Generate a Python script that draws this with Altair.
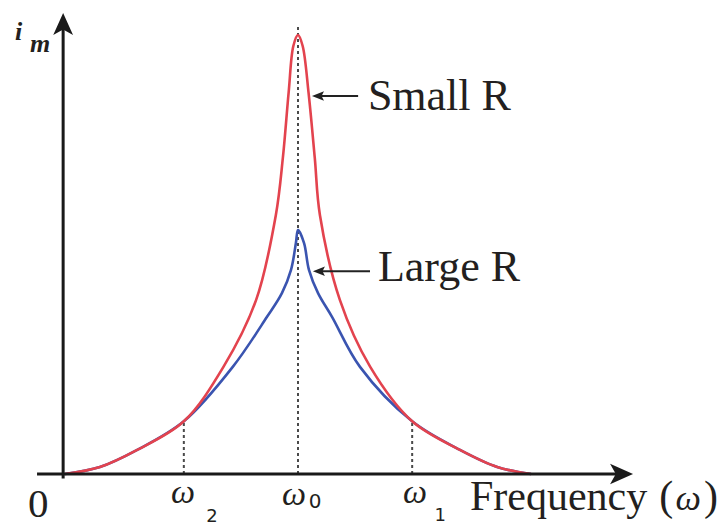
import altair as alt
import pandas as pd

# ---- data (normalised: omega/omega0, i/i_max) ----
red_x = [0.0, 0.15, 0.31, 0.51, 0.68, 0.82, 0.905, 0.935, 0.96, 0.98, 1.0,
         1.02, 1.045, 1.072, 1.094, 1.18, 1.31, 1.49, 1.695, 1.855, 2.0]
red_y = [0.0, 0.016, 0.055, 0.12, 0.244, 0.396, 0.59, 0.72, 0.87, 0.975, 1.0,
         0.975, 0.87, 0.72, 0.59, 0.396, 0.244, 0.12, 0.055, 0.016, 0.0]

blue_x = [0.0, 0.15, 0.31, 0.51, 0.72, 0.867, 0.931, 0.97, 0.991, 1.0,
          1.026, 1.047, 1.086, 1.146, 1.266, 1.49, 1.695, 1.855, 2.0]
blue_y = [0.0, 0.016, 0.055, 0.12, 0.244, 0.358, 0.412, 0.465, 0.526, 0.556,
          0.526, 0.465, 0.412, 0.358, 0.244, 0.12, 0.055, 0.016, 0.0]

omega_marks = [0.51, 1.0, 1.49]        # omega2, omega0, omega1
omega_heights = [0.12, 1.023, 0.12]    # top of the dotted guides
curve_labels = ["Small R", "Large R"]

RED = "#e3434e"
BLUE = "#3a54b0"
INK = "#231f20"
SERIF = "'Liberation Serif', 'Times New Roman', 'DejaVu Serif', serif"
SANS = "'DejaVu Sans', Verdana, sans-serif"

W, H = 710, 517
X = alt.Scale(domain=[-57 / 233, (W - 57) / 233], nice=False, zero=False)
Y = alt.Scale(domain=[-(H - 466) / 439, 466 / 439], nice=False, zero=False)


def enc(**kw):
    e = dict(x=alt.X("x:Q", scale=X, axis=None), y=alt.Y("y:Q", scale=Y, axis=None))
    e.update(kw)
    return e


def df(**cols):
    return pd.DataFrame(cols)


layers = []

# dotted guides
layers.append(
    alt.Chart(df(x=omega_marks, y=[0, 0, 0], y2=omega_heights))
    .mark_rule(color="#4a4a4a", strokeWidth=2, strokeDash=[3, 3])
    .encode(**enc(y2="y2:Q"))
)

# curves
layers.append(
    alt.Chart(df(x=blue_x, y=blue_y))
    .mark_line(color=BLUE, strokeWidth=2.6, interpolate="catmull-rom")
    .encode(**enc())
)
layers.append(
    alt.Chart(df(x=red_x, y=red_y))
    .mark_line(color=RED, strokeWidth=2.6, interpolate="catmull-rom")
    .encode(**enc())
)

# axes lines
layers.append(
    alt.Chart(df(x=[-0.12], x2=[2.40], y=[0.0]))
    .mark_rule(color="#1a1a1a", strokeWidth=3)
    .encode(**enc(x2="x2:Q"))
)
layers.append(
    alt.Chart(df(x=[-0.008], y=[-0.01], y2=[1.02]))
    .mark_rule(color="#1a1a1a", strokeWidth=3)
    .encode(**enc(y2="y2:Q"))
)
# axis arrowheads
layers.append(
    alt.Chart(df(x=[2.438], y=[0.0]))
    .mark_point(shape="M0,0L-1,-0.45L-0.75,0L-1,0.45Z", size=4 * 23 * 23,
                filled=True, color="#1a1a1a", opacity=1, strokeWidth=0)
    .encode(**enc())
)
layers.append(
    alt.Chart(df(x=[-0.008], y=[1.050]))
    .mark_point(shape="M0,0L-0.45,1L0,0.75L0.45,1Z", size=4 * 22 * 22,
                filled=True, color="#1a1a1a", opacity=1, strokeWidth=0)
    .encode(**enc())
)

# annotation arrows
layers.append(
    alt.Chart(df(x=[1.258, 1.309], x2=[1.085, 1.092], y=[0.861, 0.462]))
    .mark_rule(color="#222222", strokeWidth=2)
    .encode(**enc(x2="x2:Q"))
)
layers.append(
    alt.Chart(df(x=[1.060, 1.064], y=[0.861, 0.462]))
    .mark_point(shape="M0,0L1,-0.4L0.8,0L1,0.4Z", size=4 * 12 * 12,
                filled=True, color="#222222", opacity=1, strokeWidth=0)
    .encode(**enc())
)

# curve labels
layers.append(
    alt.Chart(df(x=[1.30, 1.343], y=[0.829, 0.44], t=curve_labels))
    .mark_text(align="left", baseline="alphabetic", font=SERIF, fontSize=44, color=INK)
    .encode(**enc(text="t:N"))
)

# axis labels
layers.append(
    alt.Chart(df(x=[-0.159], y=[-0.098], t=["0"]))
    .mark_text(align="left", baseline="alphabetic", font=SERIF, fontSize=41, color=INK)
    .encode(**enc(text="t:N"))
)
layers.append(
    alt.Chart(df(x=[1.738, 2.550, 2.742], y=[-0.082, -0.082, -0.082],
                 t=["Frequency", "(", ")"]))
    .mark_text(align="left", baseline="alphabetic", font=SERIF, fontSize=42, color=INK)
    .encode(**enc(text="t:N"))
)
layers.append(
    alt.Chart(df(x=[2.620], y=[-0.082], t=["ω"]))
    .mark_text(align="left", baseline="alphabetic", font=SERIF, fontSize=36,
               fontStyle="italic", color=INK)
    .encode(**enc(text="t:N"))
)
layers.append(
    alt.Chart(df(x=[0.506, 0.983, 1.502], y=[-0.066, -0.071, -0.066], t=["ω", "ω", "ω"]))
    .mark_text(align="center", baseline="alphabetic", font=SERIF, fontSize=34,
               fontStyle="italic", color=INK)
    .encode(**enc(text="t:N"))
)
layers.append(
    alt.Chart(df(x=[0.631, 1.610], y=[-0.109, -0.107], t=["2", "1"]))
    .mark_text(align="center", baseline="alphabetic", font=SANS, fontSize=18, color=INK)
    .encode(**enc(text="t:N"))
)
layers.append(
    alt.Chart(df(x=[1.073], y=[-0.077], t=["0"]))
    .mark_text(align="center", baseline="alphabetic", font=SANS, fontSize=20, color=INK)
    .encode(**enc(text="t:N"))
)
layers.append(
    alt.Chart(df(x=[-0.215, -0.150], y=[0.989, 0.961], t=["i", "m"]))
    .mark_text(align="left", baseline="alphabetic", font=SERIF, fontSize=26,
               fontStyle="italic", fontWeight="bold", color=INK)
    .encode(**enc(text="t:N"))
)

chart = (
    alt.layer(*layers)
    .properties(width=W, height=H, padding=0,
                autosize=alt.AutoSizeParams(type="none"), background="white")
    .configure_view(stroke=None)
)

chart.save("out.html", embed_options={"renderer": "svg", "actions": False})
